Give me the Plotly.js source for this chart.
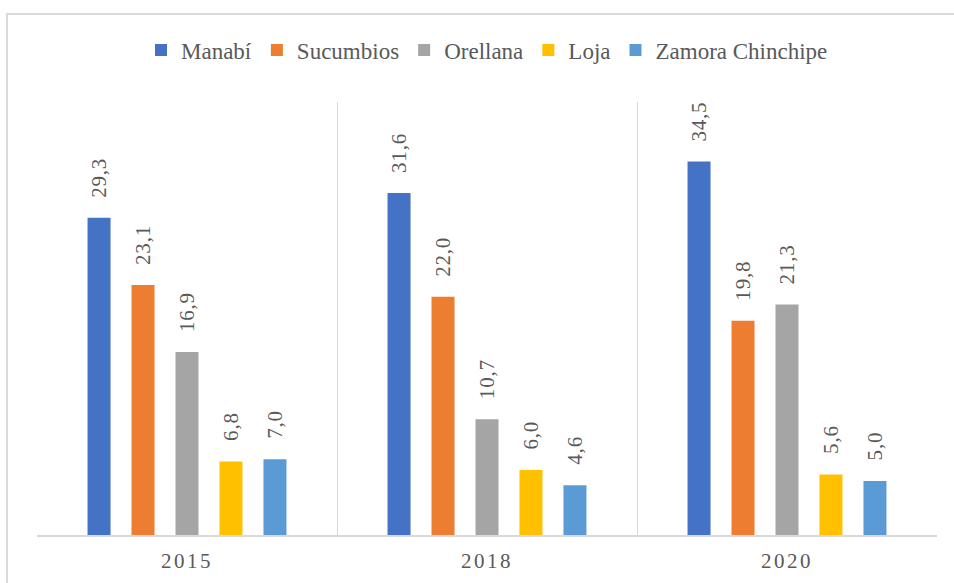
<!DOCTYPE html>
<html>
<head>
<meta charset="utf-8">
<script src="https://cdn.plot.ly/plotly-3.0.1.min.js"></script>
<style>
  html, body { margin: 0; padding: 0; background: #fff; }
  #chart { width: 954px; height: 583px; }
  .xtick text { letter-spacing: 2.5px; }
  .annotation-text { letter-spacing: 0.8px; }
</style>
</head>
<body>
<div id="chart"></div>
<script>
const years = ['2015', '2018', '2020'];
const seriesNames = ['Manabí', 'Sucumbios', 'Orellana', 'Loja', 'Zamora Chinchipe'];
const manabi = [29.3, 31.6, 34.5];
const sucumbios = [23.1, 22.0, 19.8];
const orellana = [16.9, 10.7, 21.3];
const loja = [6.8, 6.0, 5.6];
const zamora = [7.0, 4.6, 5.0];
const colors = ['#4472C4', '#ED7D31', '#A5A5A5', '#FFC000', '#5B9BD5'];

const allValues = [manabi, sucumbios, orellana, loja, zamora];
const fontFam = 'Liberation Serif';

const traces = allValues.map((vals, i) => ({
  type: 'bar',
  name: seriesNames[i],
  x: years,
  y: vals,
  marker: { color: colors[i] },
  hoverinfo: 'none'
}));

const fmt = v => v.toFixed(1).replace('.', ',');
const slot = 44; // pixel width of one bar slot within a group
const annotations = [];
allValues.forEach((vals, i) => {
  vals.forEach((v, j) => {
    annotations.push({
      x: j, y: v, xref: 'x', yref: 'y',
      text: fmt(v), showarrow: false, textangle: -90,
      xanchor: 'center', yanchor: 'bottom',
      xshift: (i - 2) * slot, yshift: 18,
      font: { family: fontFam, size: 21, color: '#595959' }
    });
  });
});

const layout = {
  width: 954, height: 583,
  margin: { l: 37, r: 17, t: 102, b: 48 },
  paper_bgcolor: '#fff', plot_bgcolor: '#fff',
  barmode: 'group', bargap: 0.267, bargroupgap: 0.477,
  showlegend: true,
  legend: {
    orientation: 'h', x: 0.5, xanchor: 'center', y: 1.12, yanchor: 'middle',
    font: { family: fontFam, size: 23, color: '#595959' },
    itemwidth: 30, traceorder: 'normal', itemclick: false
  },
  xaxis: {
    type: 'category', categoryorder: 'array', categoryarray: years,
    range: [-0.5, 2.5], autorange: false,
    tickson: 'boundaries', showgrid: true,
    gridcolor: '#d9d9d9', gridwidth: 1,
    showline: true, linecolor: '#d9d9d9', linewidth: 1.5,
    ticks: '', ticklabelstandoff: 6, tickangle: 0,
    tickfont: { family: fontFam, size: 21, color: '#595959' },
    fixedrange: true
  },
  yaxis: {
    range: [0, 40], autorange: false, visible: false, showgrid: false, zeroline: false, fixedrange: true
  },
  annotations: annotations,
  shapes: [{
    type: 'rect', xref: 'paper', yref: 'paper',
    x0: -30 / 900, x1: 1.2, y0: -0.3, y1: (535 - 14) / 433,
    line: { color: '#d9d9d9', width: 2 }, fillcolor: 'rgba(0,0,0,0)', layer: 'below'
  }],
  font: { family: fontFam }
};

Plotly.newPlot('chart', traces, layout, { displayModeBar: false, staticPlot: true });
</script>
</body>
</html>
